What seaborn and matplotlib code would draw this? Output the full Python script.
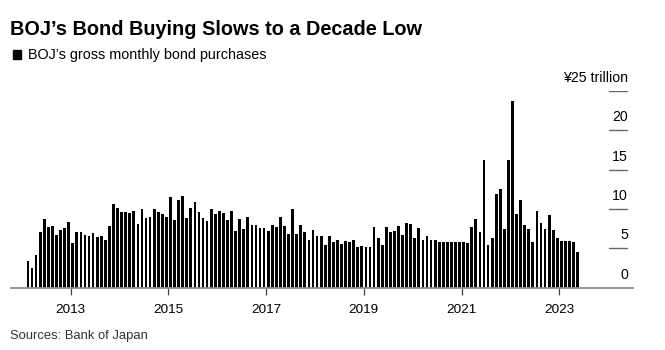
import numpy as np
import pandas as pd
import matplotlib
matplotlib.use("Agg")
import matplotlib.pyplot as plt
from matplotlib.patches import Rectangle
import seaborn as sns

# ---- data (trillion yen), monthly, Feb 2012 - May 2023 ----
first_month = "2012-02"
last_month = "2023-05"
v2012 = [3.4, 2.45, 4.17, 7.06, 8.67, 7.7, 7.85, 6.75, 7.3, 7.55, 8.33]
v2013 = [5.67, 7.02, 7.02, 6.64, 6.51, 6.94, 6.43, 6.51, 6.09, 7.83, 10.62, 10.11]
v2014 = [9.64, 9.56, 9.48, 9.77, 8.04, 9.98, 8.8, 9.01, 9.98, 9.56, 9.35, 9.01]
v2015 = [11.46, 8.63, 11.13, 11.59, 8.88, 10.11, 10.91, 9.64, 8.8, 8.5, 9.94, 9.39]
v2016 = [9.69, 9.52, 8.54, 9.69, 7.15, 8.67, 7.4, 8.97, 7.95, 7.95, 7.53, 7.53]
v2017 = [7.19, 7.95, 7.74, 8.97, 7.78, 6.77, 9.98, 6.77, 7.95, 7.11, 6.01, 7.32]
v2018 = [6.51, 6.51, 5.41, 6.51, 5.8, 6.09, 5.5, 5.96, 5.84, 6.05, 5.12, 5.25]
v2019 = [5.16, 5.16, 7.66, 6.3, 5.46, 7.66, 7.02, 7.15, 7.87, 6.68, 8.16, 8.08]
v2020 = [6.3, 7.57, 6.09, 6.56, 6.01, 6.01, 5.75, 5.75, 5.75, 5.75, 5.75, 5.75]
v2021 = [5.75, 5.67, 7.74, 8.67, 7.02, 16.16, 5.37, 6.26, 11.89, 12.52, 7.45, 16.16]
v2022 = [23.69, 9.35, 11.08, 7.95, 7.4, 5.75, 9.77, 8.16, 7.45, 9.22, 7.32, 6.3]
v2023 = [5.92, 5.92, 5.92, 5.8, 4.48]

year_ticks = [2013, 2015, 2017, 2019, 2021, 2023]
year_labels = ["2013", "2015", "2017", "2019", "2021", "2023"]
y_values = [0, 5, 10, 15, 20, 25]
y_labels = ["0", "5", "10", "15", "20", "¥25 trillion"]

title = "BOJ’s Bond Buying Slows to a Decade Low"
subtitle = "BOJ’s gross monthly bond purchases"
source = "Sources: Bank of Japan"

# ---- build table ----
values = (v2012 + v2013 + v2014 + v2015 + v2016 + v2017 + v2018 + v2019
          + v2020 + v2021 + v2022 + v2023)
months = pd.period_range(first_month, last_month, freq="M")
pos = (months.year - 2012) * 12 + (months.month - 1) + 0.5
df = pd.DataFrame({"pos": np.asarray(pos, dtype=float), "val": values})

# ---- style ----
sns.set_theme(style="white")
plt.rcParams["font.family"] = ["Liberation Sans", "DejaVu Sans"]

W, H = 665, 350
fig = plt.figure(figsize=(W / 100, H / 100), dpi=100)
ax_left, ax_right = 10.7, 633.0
ax_base, ax_top = 287.7, 90.7
ax = fig.add_axes([ax_left / W, (H - ax_base) / H,
                   (ax_right - ax_left) / W, (ax_base - ax_top) / H])

sns.barplot(data=df, x="pos", y="val", native_scale=True, width=0.68,
            color="black", saturation=1, linewidth=0, errorbar=None, ax=ax)

ax.set_xlim(-2.74, 150.1)
ax.set_ylim(0, 25)
for s in ["left", "right", "top"]:
    ax.spines[s].set_visible(False)
ax.spines["bottom"].set_color("#8f8f8f")
ax.spines["bottom"].set_linewidth(1.3)
ax.set_xticks([(y - 2012) * 12 for y in year_ticks])
ax.set_xticklabels(year_labels)
ax.tick_params(axis="x", length=4.8, width=0.9, color="#444444", pad=7,
               labelsize=9.7, labelcolor="black", bottom=True)
ax.set_yticks([])
ax.set_xlabel("")
ax.set_ylabel("")
ax.grid(False)

# right-hand value scale: short rules with labels sitting above them
x0f = (609 - ax_left) / (ax_right - ax_left)
x1f = (627 - ax_left) / (ax_right - ax_left)
for v, lab in zip(y_values, y_labels):
    if v > 0:
        ax.axhline(v, xmin=x0f, xmax=x1f, color="#666666", lw=1)
    ax.annotate(lab, xy=(1, v), xycoords=("axes fraction", "data"),
                xytext=(-3.6, 6.4), textcoords="offset points",
                ha="right", va="baseline", fontsize=10.2, color="black",
                annotation_clip=False)

# titles
fig.text(10 / W, 1 - 35 / H, title, fontsize=14.3, fontweight="bold",
         va="baseline", ha="left", color="black")
fig.patches.append(Rectangle((13.3 / W, 1 - 58.7 / H), 8 / W, 8.5 / H,
                             transform=fig.transFigure, color="black"))
fig.text(28 / W, 1 - 58.7 / H, subtitle, fontsize=10.4, va="baseline",
         ha="left", color="black")
fig.text(10 / W, 1 - 339.5 / H, source, fontsize=9.4, va="baseline",
         ha="left", color="#333333")

fig.savefig("out.png", dpi=100)
